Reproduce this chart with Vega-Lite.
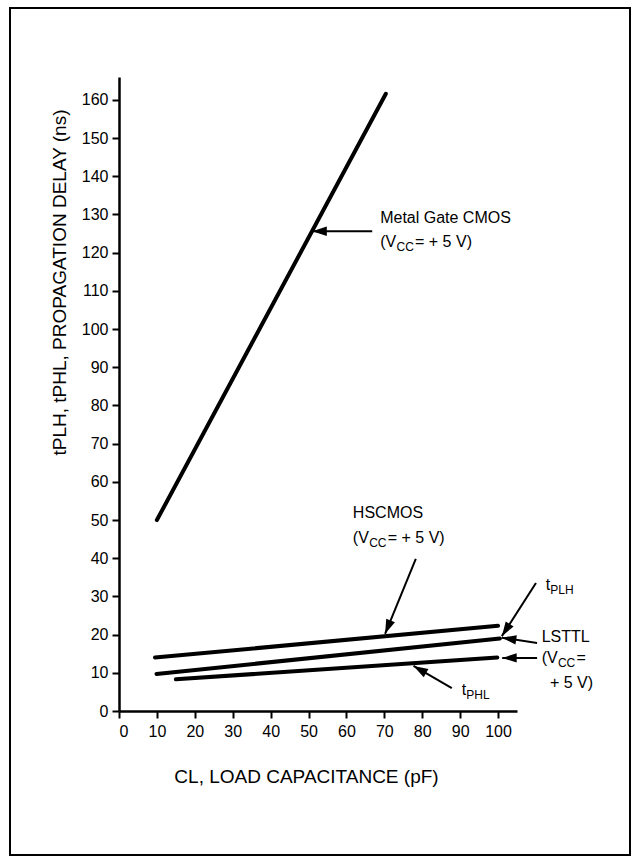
{
  "$schema": "https://vega.github.io/schema/vega-lite/v6.json",
  "width": 620,
  "height": 847,
  "autosize": {"type": "none"},
  "padding": {"left": 10, "top": 8, "right": 2, "bottom": 1},
  "background": "white",
  "config": {
    "view": {"stroke": "black", "strokeWidth": 2},
    "font": "Liberation Sans",
    "axis": {
      "grid": false,
      "domainColor": "black",
      "domainWidth": 2.5,
      "tickColor": "black",
      "tickWidth": 2,
      "tickSize": 7,
      "labelFont": "Liberation Sans",
      "labelFontSize": 16,
      "labelColor": "black",
      "titleFont": "Liberation Sans",
      "titleFontSize": 19,
      "titleFontWeight": "normal",
      "titleColor": "black"
    },
    "text": {"font": "Liberation Sans", "color": "black"}
  },
  "datasets": {
    "curves": [
      {"series": "Metal Gate CMOS", "x": 10, "y": 50},
      {"series": "Metal Gate CMOS", "x": 70.4, "y": 161.6},
      {"series": "HSCMOS", "x": 9.5, "y": 14},
      {"series": "HSCMOS", "x": 100, "y": 22.3},
      {"series": "LSTTL tPLH", "x": 9.9, "y": 9.7},
      {"series": "LSTTL tPLH", "x": 100.5, "y": 19},
      {"series": "LSTTL tPHL", "x": 15, "y": 8.3},
      {"series": "LSTTL tPHL", "x": 99.8, "y": 14}
    ],
    "arrows": [
      {"x": 66.8, "y": 125.6, "hx": 51.0, "hy": 125.6},
      {"x": 78.3, "y": 39.8, "hx": 70.2, "hy": 20.2},
      {"x": 110.0, "y": 33.5, "hx": 101.0, "hy": 19.6},
      {"x": 110.3, "y": 17.8, "hx": 101.0, "hy": 19.2},
      {"x": 110.3, "y": 13.9, "hx": 101.1, "hy": 13.9},
      {"x": 87.8, "y": 6.0, "hx": 77.7, "hy": 11.8}
    ],
    "labels": [
      {"x": 68.9, "y": 129.2, "text": "Metal Gate CMOS"},
      {"x": 68.9, "y": 122.7, "text": "(V"},
      {"x": 78.1, "y": 122.7, "text": "= + 5 V)"},
      {"x": 61.7, "y": 51.9, "text": "HSCMOS"},
      {"x": 61.7, "y": 45.3, "text": "(V"},
      {"x": 70.9, "y": 45.3, "text": "= + 5 V)"},
      {"x": 112.6, "y": 33.0, "text": "t"},
      {"x": 111.5, "y": 19.4, "text": "LSTTL"},
      {"x": 111.5, "y": 14.0, "text": "(V"},
      {"x": 120.7, "y": 14.0, "text": "="},
      {"x": 113.7, "y": 7.3, "text": "+ 5 V)"},
      {"x": 90.4, "y": 5.5, "text": "t"}
    ],
    "subs": [
      {"x": 73.2, "y": 122.7, "text": "CC"},
      {"x": 66.0, "y": 45.3, "text": "CC"},
      {"x": 113.8, "y": 33.0, "text": "PLH"},
      {"x": 115.8, "y": 14.0, "text": "CC"},
      {"x": 91.6, "y": 5.5, "text": "PHL"}
    ]
  },
  "layer": [
    {
      "data": {"name": "curves"},
      "mark": {"type": "line", "color": "black", "strokeWidth": 4, "strokeCap": "round"},
      "encoding": {
        "x": {
          "field": "x", "type": "quantitative",
          "scale": {"domain": [0, 105], "range": [109, 507], "nice": false, "zero": false},
          "axis": {
            "values": [0, 10, 20, 30, 40, 50, 60, 70, 80, 90, 100],
            "offset": -144,
            "labelPadding": 5,
            "title": "CL, LOAD CAPACITANCE (pF)",
            "titleX": 296,
            "titleY": 65,
            "titleBaseline": "middle",
            "titleAlign": "center"
          }
        },
        "y": {
          "field": "y", "type": "quantitative",
          "scale": {"domain": [0, 166], "range": [703, 69], "nice": false, "zero": false},
          "axis": {
            "values": [0, 10, 20, 30, 40, 50, 60, 70, 80, 90, 100, 110, 120, 130, 140, 150, 160],
            "offset": -109,
            "labelPadding": 4,
            "title": "tPLH, tPHL, PROPAGATION DELAY (ns)",
            "titleX": -60,
            "titleY": 274,
            "titleAngle": -90,
            "titleBaseline": "middle",
            "titleAlign": "center"
          }
        },
        "detail": {"field": "series"}
      }
    },
    {
      "data": {"name": "arrows"},
      "mark": {"type": "rule", "color": "black", "strokeWidth": 2},
      "encoding": {
        "x": {"field": "x", "type": "quantitative"},
        "y": {"field": "y", "type": "quantitative"},
        "x2": {"field": "hx"},
        "y2": {"field": "hy"}
      }
    },
    {
      "data": {"name": "arrows"},
      "transform": [
        {"calculate": "atan2((datum.hx - datum.x) * 3.79, (datum.hy - datum.y) * 3.819) * 180 / PI", "as": "ang"}
      ],
      "mark": {"type": "point", "shape": "M0,0L-0.65,2L0.65,2Z", "filled": true, "color": "black", "opacity": 1, "size": 210, "strokeWidth": 0},
      "encoding": {
        "x": {"field": "hx", "type": "quantitative", "title": "CL, LOAD CAPACITANCE (pF)"},
        "y": {"field": "hy", "type": "quantitative", "title": "tPLH, tPHL, PROPAGATION DELAY (ns)"},
        "angle": {"field": "ang", "type": "quantitative", "scale": null}
      }
    },
    {
      "data": {"name": "labels"},
      "mark": {"type": "text", "fontSize": 16, "align": "left", "baseline": "middle"},
      "encoding": {
        "x": {"field": "x", "type": "quantitative"},
        "y": {"field": "y", "type": "quantitative"},
        "text": {"field": "text"}
      }
    },
    {
      "data": {"name": "subs"},
      "mark": {"type": "text", "fontSize": 12, "align": "left", "baseline": "middle", "dy": 5},
      "encoding": {
        "x": {"field": "x", "type": "quantitative"},
        "y": {"field": "y", "type": "quantitative"},
        "text": {"field": "text"}
      }
    }
  ]
}
